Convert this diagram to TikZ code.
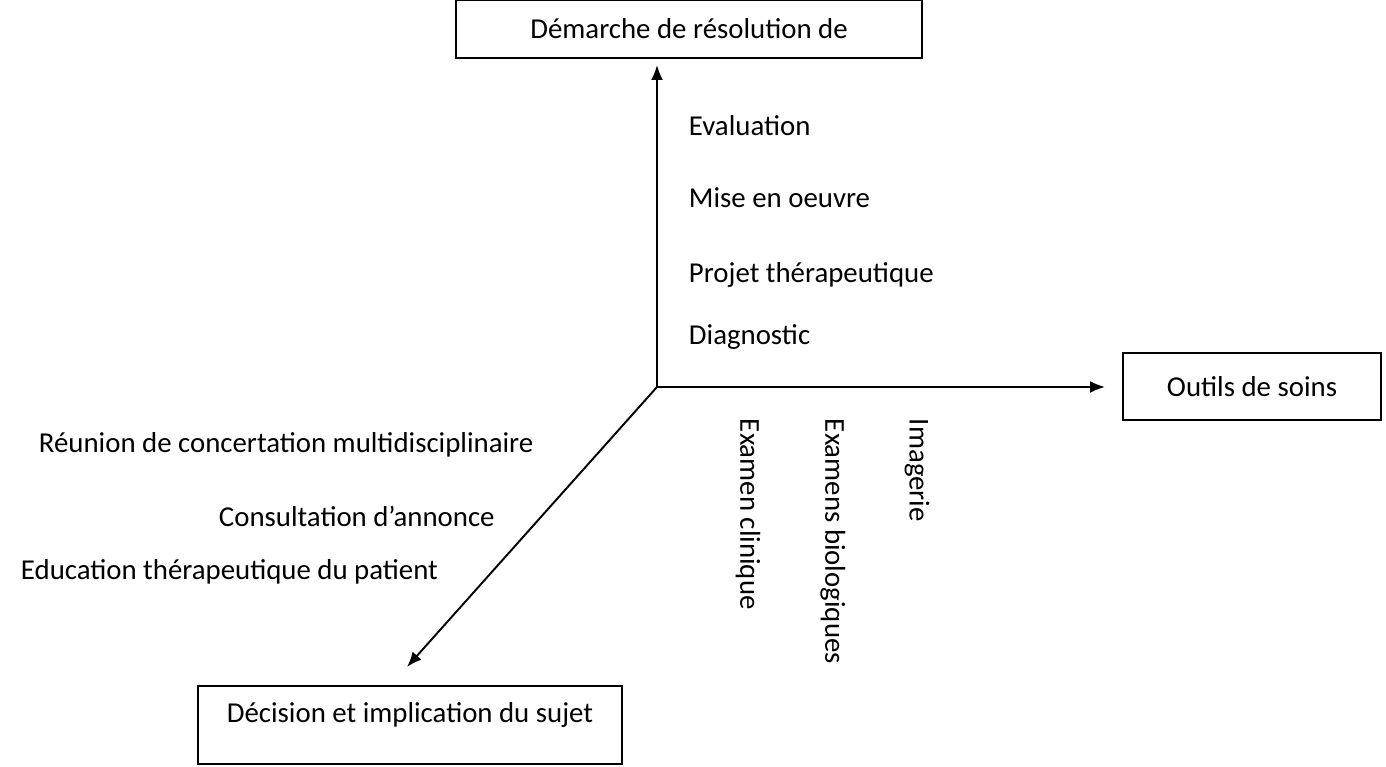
\documentclass[tikz,border=0pt]{standalone}
\usepackage{fontspec}
\setmainfont{Carlito}
\usetikzlibrary{arrows.meta}
\begin{document}
\begin{tikzpicture}[font=\fontsize{16.4}{19}\selectfont, line width=1.1pt,
   >={Latex[length=3mm,width=2.4mm]},
   box/.style={draw, line width=0.9pt, inner sep=0},
   lbl/.style={inner sep=0, anchor=west}]
   \useasboundingbox (0,0) rectangle (27.72,15.34);
   \coordinate (O) at (13.14,7.60);
   \coordinate (up) at (13.14,14.04);
   \coordinate (right) at (22.10,7.60);
   \coordinate (down) at (8.14,2.00);
   \node[box, minimum width=9.32cm, minimum height=1.16cm] (demarche) at (13.78,14.76) {Démarche de résolution de};
   \node[box, minimum width=5.16cm, minimum height=1.34cm] (outils) at (25.04,7.61) {Outils de soins};
   \node[box, anchor=north, minimum width=8.48cm, text height=0.74cm, text depth=0.82cm] (decision) at (8.20,1.64) {Décision et implication du sujet};
   \draw[->] (O) -- (up);
   \draw[->] (O) -- (right);
   \draw[->] (O) -- (down);
   % demarche
   \node[lbl] (eval) at (13.76,12.82) {Evaluation};
   \node[lbl] (mise) at (13.76,11.38) {Mise en oeuvre};
   \node[lbl] (projet) at (13.76,9.84) {Projet thérapeutique};
   \node[lbl] (diag) at (13.76,8.60) {Diagnostic};
   % outils
   \node[lbl, rotate=-90] (clinique) at (14.96,6.98) {Examen clinique};
   \node[lbl, rotate=-90] (bio) at (16.66,6.98) {Examens biologiques};
   \node[lbl, rotate=-90] (imagerie) at (18.34,6.98) {Imagerie};
   % decision
   \node[lbl] (rcp) at (0.76,6.44) {Réunion de concertation multidisciplinaire};
   \node[lbl] (annonce) at (4.36,5.02) {Consultation d’annonce};
   \node[lbl] (etp) at (0.40,3.90) {Education thérapeutique du patient};
\end{tikzpicture}
\end{document}
